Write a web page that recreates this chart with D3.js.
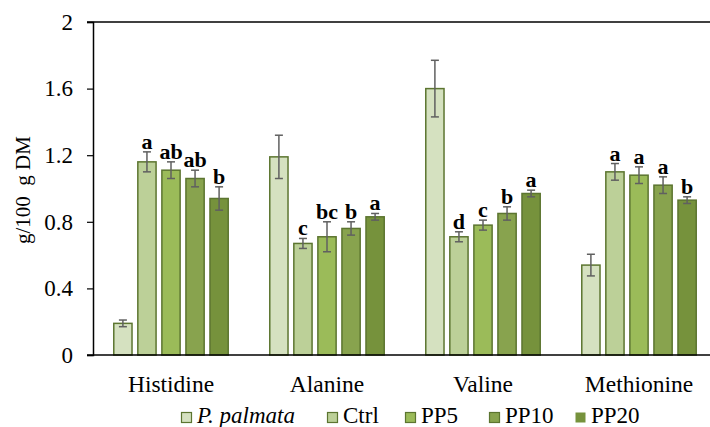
<!DOCTYPE html>
<html>
<head>
<meta charset="utf-8">
<script src="https://cdn.jsdelivr.net/npm/d3@7"></script>
<style>
  body { margin: 0; background: #fff; }
</style>
</head>
<body>
<div id="chart"></div>
<script>
// Data
const categories = ["Histidine", "Alanine", "Valine", "Methionine"];
const series = ["P. palmata", "Ctrl", "PP5", "PP10", "PP20"];
const values = {
    "P. palmata": [0.19, 1.19, 1.60, 0.54],
    "Ctrl":       [1.16, 0.67, 0.71, 1.10],
    "PP5":        [1.11, 0.71, 0.78, 1.08],
    "PP10":       [1.06, 0.76, 0.85, 1.02],
    "PP20":       [0.94, 0.83, 0.97, 0.93]
};
const errors = {
    "P. palmata": [0.02, 0.13, 0.17, 0.065],
    "Ctrl":       [0.06, 0.03, 0.03, 0.05],
    "PP5":        [0.05, 0.09, 0.03, 0.05],
    "PP10":       [0.05, 0.04, 0.04, 0.05],
    "PP20":       [0.07, 0.02, 0.02, 0.02]
};
const letters = {
    "P. palmata": ["", "", "", ""],
    "Ctrl":       ["a", "c", "d", "a"],
    "PP5":        ["ab", "bc", "c", "a"],
    "PP10":       ["ab", "b", "b", "a"],
    "PP20":       ["b", "a", "a", "b"]
};
const yTicks = [0, 0.4, 0.8, 1.2, 1.6, 2];
const colors = ["#d5e1c0", "#bcd098", "#9bbb59", "#88a34e", "#76923c"];

const serif = '"Liberation Serif", "Times New Roman", serif';

let width = 710,
    height = 427;

let margin = { top: 22, bottom: 72, left: 93, right: -7 };

let svg = d3.select('#chart')
    .append('svg')
    .attr('width', width)
    .attr('height', height)
    .style('font-family', serif);

// Scales
let x0 = d3.scaleBand()
    .domain(categories)
    .range([margin.left, width - margin.right])
    .paddingInner(0.26)
    .paddingOuter(0.13);

let x1 = d3.scaleBand()
    .domain(series)
    .range([0, x0.bandwidth()])
    .paddingInner(0.2);

let yScale = d3.scaleLinear()
    .domain([0, 2])
    .range([height - margin.bottom, margin.top]);

const colorScale = d3.scaleOrdinal().domain(series).range(colors);

// Flatten for drawing
const rows = [];
categories.forEach((c, i) => {
    series.forEach(s => {
        rows.push({ cat: c, s: s, v: values[s][i], e: errors[s][i], l: letters[s][i] });
    });
});

// Bars
svg.append('g').selectAll('rect')
    .data(rows)
    .enter()
    .append('rect')
    .attr('x', d => x0(d.cat) + x1(d.s) + 0.5)
    .attr('y', d => yScale(d.v))
    .attr('width', x1.bandwidth() - 1)
    .attr('height', d => yScale(0) - yScale(d.v))
    .attr('fill', d => colorScale(d.s))
    .attr('stroke', '#5c7530')
    .attr('stroke-width', 1.5);

// Error bars
const eb = svg.append('g')
    .attr('stroke', '#606060')
    .attr('stroke-width', 1.5);

rows.forEach(d => {
    const cx = x0(d.cat) + x1(d.s) + x1.bandwidth() / 2;
    eb.append('line')
        .attr('x1', cx).attr('x2', cx)
        .attr('y1', yScale(d.v + d.e)).attr('y2', yScale(d.v - d.e));
    eb.append('line')
        .attr('x1', cx - 4).attr('x2', cx + 4)
        .attr('y1', yScale(d.v + d.e)).attr('y2', yScale(d.v + d.e));
    eb.append('line')
        .attr('x1', cx - 4).attr('x2', cx + 4)
        .attr('y1', yScale(d.v - d.e)).attr('y2', yScale(d.v - d.e));
});

// Significance letters
svg.append('g').selectAll('text')
    .data(rows.filter(d => d.l))
    .enter()
    .append('text')
    .attr('x', d => x0(d.cat) + x1(d.s) + x1.bandwidth() / 2)
    .attr('y', d => yScale(d.v + d.e) - 3)
    .attr('text-anchor', 'middle')
    .style('font-family', serif)
    .style('font-size', '22px')
    .style('font-weight', 'bold')
    .text(d => d.l);

// Top border line
svg.append('line')
    .attr('x1', margin.left - 6).attr('x2', width)
    .attr('y1', yScale(2)).attr('y2', yScale(2))
    .attr('stroke', '#000')
    .attr('stroke-width', 1.5);

// y-axis
let yAxis = svg.append('g')
    .attr('transform', `translate(${margin.left},0)`)
    .call(d3.axisLeft(yScale).tickValues(yTicks).tickFormat(d => d).tickSize(6).tickPadding(14));
yAxis.select('.domain').attr('stroke', '#000').attr('stroke-width', 1.5);
yAxis.selectAll('.tick line').attr('stroke-width', 1.2);
yAxis.attr('font-family', null).attr('font-size', null);
yAxis.selectAll('text')
    .style('font-size', '23px')
    .style('font-family', serif)
    .attr('fill', '#000');

// x-axis line
svg.append('line')
    .attr('x1', margin.left - 6).attr('x2', width)
    .attr('y1', yScale(0)).attr('y2', yScale(0))
    .attr('stroke', '#000')
    .attr('stroke-width', 1.5);

// Category labels
svg.append('g').selectAll('text')
    .data(categories)
    .enter()
    .append('text')
    .attr('x', d => x0(d) + x0.bandwidth() / 2)
    .attr('y', 392)
    .attr('text-anchor', 'middle')
    .style('font-family', serif)
    .style('font-size', '23.5px')
    .text(d => d);

// y-axis label
svg.append('text')
    .attr('x', -190)
    .attr('y', 30)
    .attr('transform', 'rotate(-90)')
    .attr('text-anchor', 'middle')
    .style('font-family', serif)
    .style('font-size', '21px')
    .style('white-space', 'pre')
    .text('g/100  g DM');

// Legend
const legendX = [181, 327, 405, 489, 575];
const legend = svg.selectAll('.legend')
    .data(series)
    .enter().append('g')
    .attr('class', 'legend')
    .attr('transform', (d, i) => `translate(${legendX[i]},423)`);

legend.append('rect')
    .attr('x', 0.5)
    .attr('y', -10.5)
    .attr('width', 10)
    .attr('height', 10)
    .attr('fill', d => colorScale(d))
    .attr('stroke', (d, i) => i === 4 ? 'none' : '#5c7530')
    .attr('stroke-width', 1.2);

legend.append('text')
    .attr('x', 16)
    .attr('y', 0)
    .style('font-family', serif)
    .style('font-size', '23px')
    .style('font-style', (d, i) => i === 0 ? 'italic' : 'normal')
    .text(d => d);
</script>
</body>
</html>
